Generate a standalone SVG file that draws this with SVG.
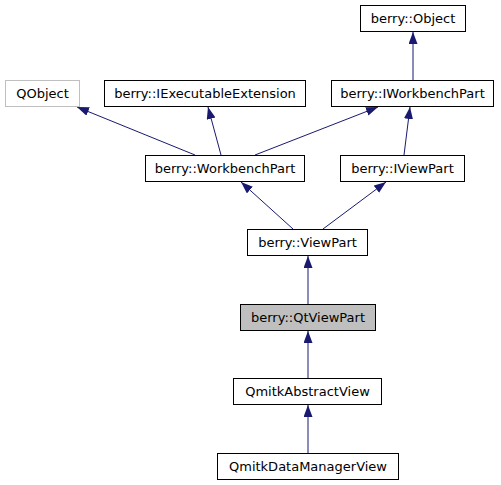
<svg xmlns="http://www.w3.org/2000/svg" width="501" height="485" viewBox="0 0 501 485">
<style>
.n rect{fill:#fff;stroke:#000;stroke-width:1}
.n text{font-family:"DejaVu Sans","Liberation Sans",sans-serif;font-size:13px;text-anchor:middle;fill:#000}
.e line{stroke:#191970;stroke-width:1}
</style>
<defs>
<marker id="ah" markerUnits="userSpaceOnUse" markerWidth="13" markerHeight="10" refX="12" refY="4.5" orient="auto">
<path d="M0,0 L12,4.5 L0,9 z" fill="#191970"/>
</marker>
</defs>
<rect width="501" height="485" fill="#fff"/>
<g id="edges" class="e">
<line x1="413" y1="80" x2="413" y2="32" marker-end="url(#ah)"/>
<line x1="195" y1="155" x2="77" y2="107" marker-end="url(#ah)"/>
<line x1="221" y1="155" x2="208" y2="107" marker-end="url(#ah)"/>
<line x1="255" y1="155" x2="378" y2="107" marker-end="url(#ah)"/>
<line x1="404" y1="155" x2="410" y2="107" marker-end="url(#ah)"/>
<line x1="293" y1="229" x2="241" y2="182" marker-end="url(#ah)"/>
<line x1="323" y1="229" x2="386" y2="182" marker-end="url(#ah)"/>
<line x1="308" y1="304" x2="308" y2="256" marker-end="url(#ah)"/>
<line x1="308" y1="378" x2="308" y2="331" marker-end="url(#ah)"/>
<line x1="308" y1="453" x2="308" y2="405" marker-end="url(#ah)"/>
</g>
<g id="object" class="n"><rect x="360.5" y="5.5" width="105" height="26"/><text x="413" y="22.5">berry::Object</text></g>
<g id="qobject" class="n"><rect x="5.5" y="80.5" width="74" height="26" style="stroke:#bfbfbf"/><text x="42.5" y="97.5">QObject</text></g>
<g id="iexec" class="n"><rect x="104.5" y="80.5" width="201" height="26"/><text x="205" y="97.5">berry::IExecutableExtension</text></g>
<g id="iworkbenchpart" class="n"><rect x="331.5" y="80.5" width="162" height="26"/><text x="412.5" y="97.5">berry::IWorkbenchPart</text></g>
<g id="workbenchpart" class="n"><rect x="145.5" y="155.5" width="159" height="26"/><text x="225" y="172.5">berry::WorkbenchPart</text></g>
<g id="iviewpart" class="n"><rect x="340.5" y="155.5" width="124" height="26"/><text x="402.5" y="172.5">berry::IViewPart</text></g>
<g id="viewpart" class="n"><rect x="247.5" y="229.5" width="120" height="26"/><text x="307.5" y="246.5">berry::ViewPart</text></g>
<g id="qtviewpart" class="n"><rect x="240.5" y="304.5" width="135" height="26" style="fill:#bfbfbf"/><text x="308" y="321.5">berry::QtViewPart</text></g>
<g id="abstractview" class="n"><rect x="233.5" y="378.5" width="148" height="26"/><text x="307.5" y="395.5">QmitkAbstractView</text></g>
<g id="datamanagerview" class="n"><rect x="217.5" y="453.5" width="181" height="26"/><text x="308" y="470.5">QmitkDataManagerView</text></g>
</svg>
